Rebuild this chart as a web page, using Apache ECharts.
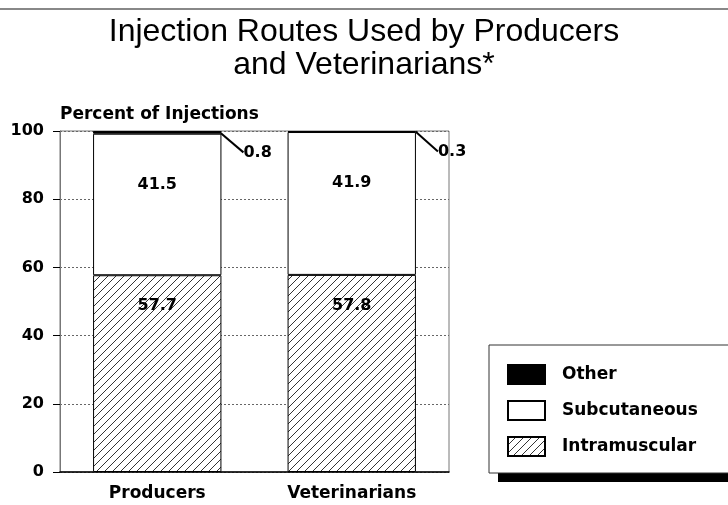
<!DOCTYPE html>
<html>
<head>
<meta charset="utf-8">
<script src="https://cdn.jsdelivr.net/npm/echarts@6/dist/echarts.min.js"></script>
<style>
  html, body { margin: 0; padding: 0; background: #fff; }
  #chart { width: 728px; height: 505px; }
</style>
</head>
<body>
<div id="chart"></div>
<script>
// data
var groups = ["Producers", "Veterinarians"];
var intramuscular = [57.7, 57.8];
var subcutaneous = [41.5, 41.9];
var other = [0.8, 0.3];
var yTicks = [0, 20, 40, 60, 80, 100];

// diagonal hatch for intramuscular
function hatch() {
  var c = document.createElement("canvas");
  c.width = 8;
  c.height = 8;
  var ctx = c.getContext("2d");
  ctx.fillStyle = "#fff";
  ctx.fillRect(0, 0, 8, 8);
  ctx.strokeStyle = "#000";
  ctx.lineWidth = 0.8;
  ctx.beginPath();
  ctx.moveTo(-1, 9); ctx.lineTo(9, -1);
  ctx.moveTo(-1, 1); ctx.lineTo(1, -1);
  ctx.moveTo(7, 9); ctx.lineTo(9, 7);
  ctx.stroke();
  return c;
}
var hatchPattern = { image: hatch(), repeat: "repeat" };

var font = "DejaVu Sans";
var chart = echarts.init(document.getElementById("chart"));

var option = {
  animation: false,
  textStyle: { fontFamily: font },
  title: {
    text: "Injection Routes Used by Producers\nand Veterinarians*",
    left: "center",
    top: 11,
    textStyle: { fontSize: 32, fontWeight: "normal", color: "#000", lineHeight: 33, fontFamily: "Liberation Sans" }
  },
  graphic: [
    {
      type: "line",
      shape: { x1: 0, y1: 9, x2: 728, y2: 9 },
      style: { stroke: "#888", lineWidth: 2 }
    },
    {
      // drop shadow behind the legend box
      type: "rect",
      z: 1,
      shape: { x: 498, y: 354, width: 260, height: 128 },
      style: { fill: "#000" }
    }
  ],
  legend: {
    orient: "vertical",
    left: 489,
    top: 345,
    z: 5,
    icon: "rect",
    data: ["Other", "Subcutaneous", "Intramuscular"],
    itemWidth: 37,
    itemHeight: 19,
    itemGap: 15,
    padding: [19, 80, 16, 18],
    backgroundColor: "#fff",
    borderColor: "#333",
    borderWidth: 1,
    textStyle: { fontSize: 17, fontWeight: "bold", color: "#000", padding: [0, 0, 0, 12], fontFamily: font }
  },
  grid: {
    left: 60, right: 279, top: 131, bottom: 33,
    show: true, borderColor: "#777", borderWidth: 1
  },
  xAxis: {
    type: "category",
    data: groups,
    axisLine: { lineStyle: { color: "#000", width: 1.5 } },
    axisTick: { alignWithLabel: true, length: 6, lineStyle: { color: "#000" } },
    axisLabel: { fontSize: 17, fontWeight: "bold", color: "#000", margin: 13, fontFamily: font }
  },
  yAxis: {
    type: "value",
    min: yTicks[0],
    max: yTicks[yTicks.length - 1],
    interval: 20,
    name: "Percent of Injections",
    nameLocation: "end",
    nameGap: 8,
    nameTextStyle: { align: "left", fontSize: 17, fontWeight: "bold", color: "#000", fontFamily: font },
    axisLine: { show: true, lineStyle: { color: "#777" } },
    axisTick: { show: true, length: 7, lineStyle: { color: "#000" } },
    axisLabel: { fontSize: 16, fontWeight: "bold", color: "#000", margin: 16, fontFamily: font },
    splitLine: { lineStyle: { type: [2, 2], color: "#666" } }
  },
  series: [
    {
      name: "Intramuscular",
      type: "bar",
      stack: "t",
      barWidth: "66%",
      data: intramuscular,
      itemStyle: { color: hatchPattern, borderColor: "#000", borderWidth: 1 },
      label: {
        show: true, position: "insideTop", distance: 23,
        fontSize: 16, fontWeight: "bold", color: "#000", fontFamily: font
      }
    },
    {
      name: "Subcutaneous",
      type: "bar",
      stack: "t",
      data: subcutaneous,
      itemStyle: { color: "#fff", borderColor: "#000", borderWidth: 1 },
      label: {
        show: true, position: "insideTop", distance: 43,
        fontSize: 16, fontWeight: "bold", color: "#000", fontFamily: font
      }
    },
    {
      name: "Other",
      type: "bar",
      stack: "t",
      data: other,
      itemStyle: { color: "#000", borderColor: "#000", borderWidth: 1 },
      label: {
        show: true, position: "right", distance: 0, padding: [0, 0, 0, 8],
        fontSize: 16, fontWeight: "bold", color: "#000", fontFamily: font
      },
      labelLayout: { dx: 14, dy: 20 },
      labelLine: { show: true, lineStyle: { color: "#000", width: 2 } }
    }
  ]
};

chart.setOption(option);
</script>
</body>
</html>
